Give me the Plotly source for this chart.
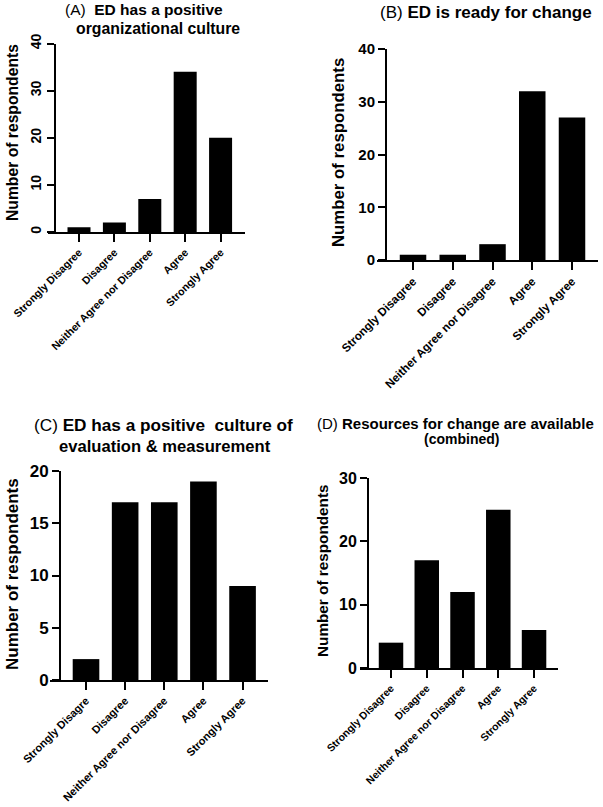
import plotly.graph_objects as go

W, H = 603, 807

categories = ["Strongly Disagree", "Disagree", "Neither Agree nor Disagree", "Agree", "Strongly Agree"]
tick_labels_c = ["Strongly Disagre", "Disagree", "Neither Agree nor Disagree", "Agree", "Strongly Agree"]

values_a = [1, 2, 7, 34, 20]
values_b = [1, 1, 3, 32, 27]
values_c = [2, 17, 17, 19, 9]
values_d = [4, 17, 12, 25, 6]

yticks_a = [0, 10, 20, 30, 40]
yticks_b = [0, 10, 20, 30, 40]
yticks_c = [0, 5, 10, 15, 20]
yticks_d = [0, 10, 20, 30]

y_title = "Number of respondents"
FONT = "Arial, Liberation Sans, sans-serif"

panels = [
    dict(cats=categories, ticks=categories, vals=values_a, yt=yticks_a, xl=48, xr=245, yx=55, y0=232, y1=43.5,
         xrange=[-0.876, 4.69], ymax=40, bw=0.65, ta=-90, tf=14, lf=10.7),
    dict(cats=categories, ticks=categories, vals=values_b, yt=yticks_b, xl=377, xr=598, yx=386, y0=260, y1=49,
         xrange=[-0.906, 4.654], ymax=40, bw=0.667, ta=0, tf=15, lf=11.7),
    dict(cats=categories, ticks=tick_labels_c, vals=values_c, yt=yticks_c, xl=50, xr=268, yx=60, y0=680, y1=471,
         xrange=[-0.92, 4.65], ymax=20, bw=0.68, ta=0, tf=17, lf=11.0),
    dict(cats=categories, ticks=categories, vals=values_d, yt=yticks_d, xl=360, xr=558, yx=368, y0=668, y1=478,
         xrange=[-0.867, 4.67], ymax=30, bw=0.685, ta=0, tf=16, lf=10.5),
]

fig = go.Figure()
layout = {}
for i, p in enumerate(panels, start=1):
    sx = "" if i == 1 else str(i)
    fig.add_trace(go.Bar(
        x=p["cats"], y=p["vals"], width=p["bw"],
        marker=dict(color="black", line=dict(width=0)),
        xaxis="x" + sx, yaxis="y" + sx, showlegend=False,
    ))
    layout["xaxis" + sx] = dict(
        domain=[p["xl"] / W, p["xr"] / W], anchor="y" + sx, range=p["xrange"], automargin=False,
        type="category", tickmode="array", tickvals=p["cats"], ticktext=p["ticks"],
        tickangle=-45, ticks="outside", ticklen=8, tickwidth=2, tickcolor="black",
        showline=True, linewidth=2, linecolor="black", showgrid=False, zeroline=False,
        tickfont=dict(family=FONT, size=p["lf"], color="black", weight="bold"),
        fixedrange=True,
    )
    layout["yaxis" + sx] = dict(
        domain=[1 - p["y0"] / H, 1 - p["y1"] / H], anchor="free", position=p["yx"] / W, automargin=False,
        range=[0, p["ymax"]], tickmode="array", tickvals=p["yt"],
        ticks="outside", ticklen=7, tickwidth=2, tickcolor="black", tickangle=p["ta"],
        showline=True, linewidth=2, linecolor="black", showgrid=False, zeroline=False,
        tickfont=dict(family=FONT, size=p["tf"], color="black", weight="bold"),
        fixedrange=True,
    )

annotations = [
    # y-axis titles
    dict(text="<b>" + y_title + "</b>", x=12, y=133, textangle=-90, size=15.7, xa="center"),
    dict(text="<b>" + y_title + "</b>", x=338, y=153, textangle=-90, size=16.8, xa="center"),
    dict(text="<b>" + y_title + "</b>", x=12, y=574, textangle=-90, size=17, xa="center"),
    dict(text="<b>" + y_title + "</b>", x=322, y=571, textangle=-90, size=15.3, xa="center"),
    # panel titles (one annotation per line)
    dict(text="(A)  <b>ED has a positive</b>", x=63, y=10, size=15.5, xa="left"),
    dict(text="<b>organizational culture</b>", x=74, y=28, size=15.8, xa="left"),
    dict(text="(B) <b>ED is ready for change</b>", x=378, y=13, size=17, xa="left"),
    dict(text="(C) <b>ED has a positive&nbsp; culture of</b>", x=32, y=425, size=17.2, xa="left"),
    dict(text="<b>evaluation &amp; measurement</b>", x=57, y=446, size=16.6, xa="left"),
    dict(text="(D) <b>Resources for change are available</b>", x=315, y=423, size=15, xa="left"),
    dict(text="<b>(combined)</b>", x=422, y=439, size=14, xa="left"),
]
anns = []
for a in annotations:
    anns.append(dict(
        text=a["text"], x=a["x"] / W, y=1 - a["y"] / H, xref="paper", yref="paper",
        showarrow=False, xanchor=a["xa"], yanchor="middle", textangle=a.get("textangle", 0),
        font=dict(family=FONT, size=a["size"], color="black"),
    ))

fig.update_layout(
    template="none",
    width=W, height=H, margin=dict(l=0, r=0, t=0, b=0, pad=0, autoexpand=False),
    paper_bgcolor="white", plot_bgcolor="white",
    annotations=anns, **layout,
)
fig.write_html(
    "out.html",
    config={"displayModeBar": False},
    post_script="document.body.style.margin='0px';document.body.style.padding='0px';",
)
